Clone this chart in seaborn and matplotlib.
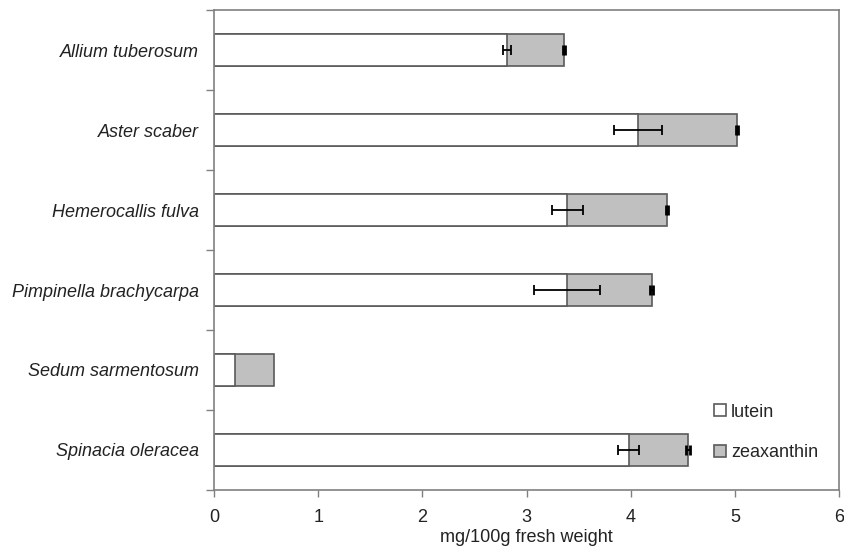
import matplotlib
matplotlib.use("Agg")
import matplotlib.pyplot as plt
from matplotlib.lines import Line2D
from matplotlib.ticker import FixedLocator
import numpy as np
import pandas as pd
import seaborn as sns

species = ["Allium tuberosum", "Aster scaber", "Hemerocallis fulva",
           "Pimpinella brachycarpa", "Sedum sarmentosum", "Spinacia oleracea"]
lutein = [2.81, 4.07, 3.39, 3.39, 0.20, 3.98]
zeaxanthin = [0.55, 0.95, 0.96, 0.81, 0.38, 0.57]
# Sedum has no error bars in the original
lutein_err = [0.04, 0.23, 0.15, 0.32, np.nan, 0.10]
zeaxanthin_err = [0.01, 0.01, 0.01, 0.01, np.nan, 0.02]

df = pd.DataFrame({"species": species, "lutein": lutein, "zeaxanthin": zeaxanthin,
                   "lutein_err": lutein_err, "zeaxanthin_err": zeaxanthin_err})
df["total"] = df["lutein"] + df["zeaxanthin"]
df["pos"] = np.arange(len(species))

sns.set_style("white")
plt.rcParams["font.family"] = ["Liberation Sans", "DejaVu Sans"]

fig, ax = plt.subplots(figsize=(8.45, 5.5), dpi=100)
fig.subplots_adjust(left=0.2533, right=0.9929, top=0.9818, bottom=0.1091)

edge = "#5a5a5a"
sns.barplot(data=df, x="total", y="species", orient="h", color="#c0c0c0",
            edgecolor=edge, linewidth=1.2, width=0.41, saturation=1, ax=ax)
sns.barplot(data=df, x="lutein", y="species", orient="h", color="white",
            edgecolor=edge, linewidth=1.2, width=0.41, saturation=1, ax=ax)

err = df.dropna(subset=["lutein_err"])
ax.errorbar(err["lutein"], err["pos"], xerr=err["lutein_err"], fmt="none",
            ecolor="black", elinewidth=1.3, capsize=3.5, capthick=1.3)
ax.errorbar(err["total"], err["pos"], xerr=err["zeaxanthin_err"], fmt="none",
            ecolor="black", elinewidth=1.5, capsize=3.5, capthick=2.0)

ax.set_xlim(0, 6)
ax.set_ylim(5.5, -0.5)
ax.set_xticks(range(7))
ax.set_xlabel("mg/100g fresh weight", fontsize=13, color="#222222", labelpad=2)
ax.set_ylabel("")
ax.set_yticks(df["pos"])
ax.set_yticklabels(species, fontstyle="italic")
ax.yaxis.set_minor_locator(FixedLocator(np.arange(-0.5, 6, 1)))
ax.tick_params(axis="y", which="major", length=0, pad=11, labelsize=13, labelcolor="#222222")
ax.tick_params(axis="y", which="minor", length=6, width=1, color="#808080", left=True)
ax.tick_params(axis="x", which="major", length=5, width=1, color="#808080", pad=9,
               bottom=True, labelsize=13, labelcolor="#222222")

for s in ax.spines.values():
    s.set_color("#808080")
    s.set_linewidth(1.2)

handles = [
    Line2D([], [], marker="s", linestyle="none", markersize=8,
           markerfacecolor="white", markeredgecolor=edge, markeredgewidth=1.2),
    Line2D([], [], marker="s", linestyle="none", markersize=8,
           markerfacecolor="#c0c0c0", markeredgecolor=edge, markeredgewidth=1.2),
]
ax.legend(handles, ["lutein", "zeaxanthin"], loc="center left",
          bbox_to_anchor=(0.775, 0.12), frameon=False, fontsize=13,
          handlelength=0.6, handletextpad=0.3, labelspacing=1.3)

fig.savefig("out.png", dpi=100)
